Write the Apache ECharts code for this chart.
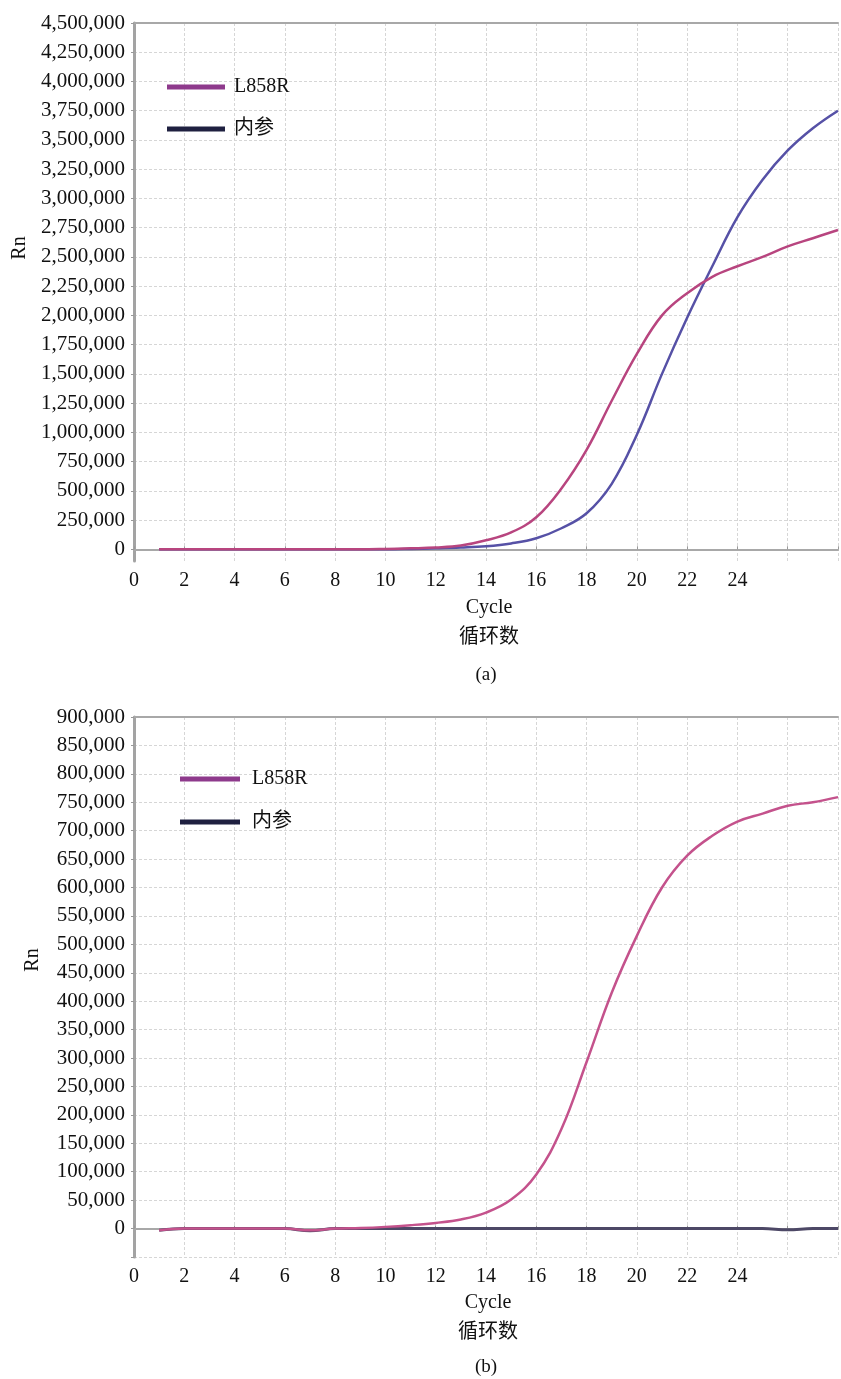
<!DOCTYPE html>
<html>
<head>
<meta charset="utf-8">
<script src="https://cdn.jsdelivr.net/npm/echarts@6/dist/echarts.min.js"></script>
<style>
html,body{margin:0;padding:0;background:#fff;}
#chart{width:841px;height:1379px;}
</style>
</head>
<body>
<div id="chart"></div>
<script>
// ---- data ----
var cycles = [1,2,3,4,5,6,7,8,9,10,11,12,13,14,15,16,17,18,19,20,21,22,23,24,25,26,27,28];
var aL858R = [0,0,0,0,0,0,0,0,0,3000,8000,15000,32000,77000,145000,274000,520000,850000,1270000,1670000,2000000,2190000,2330000,2420000,2500000,2590000,2660000,2730000];
var aRef   = [0,0,0,0,0,0,0,0,0,0,3000,8000,15000,26000,50000,94000,180000,308000,560000,980000,1500000,1980000,2420000,2840000,3160000,3410000,3600000,3750000];
var bL858R = [-3000,0,0,0,0,0,-3000,0,1000,3000,6000,10000,16000,28000,51000,95000,175000,293000,415000,515000,600000,656000,691000,716000,730000,744000,750000,759000];
var bRef   = [-3000,0,0,0,0,0,-4000,0,0,0,0,0,0,0,0,0,0,0,0,0,0,0,0,0,0,-2000,0,0];
var aYTicks = [0,250000,500000,750000,1000000,1250000,1500000,1750000,2000000,2250000,2500000,2750000,3000000,3250000,3500000,3750000,4000000,4250000,4500000];
var seriesNames = ['L858R','内参'];

var FONT = '"Liberation Serif","Times New Roman","Noto Sans CJK SC",serif';
function fmt(v){ return String(v).replace(/\B(?=(\d{3})+(?!\d))/g, ','); }
function pairs(ys){ return cycles.map(function(c,i){ return [c, ys[i]]; }); }

var gridLine = {show:true, lineStyle:{color:'#d6d6d6', width:1, type:[3,2]}};
var axisLineL = {show:true, lineStyle:{color:'#a3a3a3', width:3}};
var axisLineB = {show:true, lineStyle:{color:'#a8a8a8', width:2}};

function xAx(gi){
  return {
    type:'value', gridIndex:gi, min:0, max:28, interval:2,
    axisLine:axisLineB,
    axisTick:{show:true, length:3, inside:true, lineStyle:{color:'#999'}},
    axisLabel:{fontFamily:FONT, fontSize:20, color:'#111', margin:10,
      formatter:function(v){ return v>24 ? '' : String(v); }},
    splitLine:gridLine
  };
}
function xTop(gi){
  return {
    type:'value', gridIndex:gi, position:'top', min:0, max:28,
    axisLine:{show:true, lineStyle:{color:'#a8a8a8', width:2}},
    axisTick:{show:false}, axisLabel:{show:false}, splitLine:{show:false}
  };
}

var option = {
  backgroundColor:'#fff',
  animation:false,
  grid:[
    {left:134, top:23, width:706, height:538},
    {left:134, top:717, width:706, height:540}
  ],
  xAxis:[xAx(0), xTop(0), xAx(1), xTop(1)],
  yAxis:[
    {type:'value', gridIndex:0, min:-100000, max:4500000,
      axisLine:axisLineL,
      axisTick:{show:true, length:3, customValues:aYTicks, lineStyle:{color:'#999'}},
      axisLabel:{customValues:aYTicks, fontFamily:FONT, fontSize:21, color:'#111', margin:9, formatter:fmt},
      splitLine:gridLine},
    {type:'value', gridIndex:1, min:-50000, max:900000, interval:50000,
      axisLine:axisLineL,
      axisTick:{show:true, length:3, lineStyle:{color:'#999'}},
      axisLabel:{fontFamily:FONT, fontSize:21, color:'#111', margin:9,
        formatter:function(v){ return v<0 ? '' : fmt(v); }},
      splitLine:gridLine}
  ],
  legend:[
    {orient:'vertical', left:162, top:72, itemWidth:58, itemHeight:5, itemGap:22, icon:'rect',
      textStyle:{fontFamily:FONT, fontSize:20, color:'#111', padding:[0,0,0,4]},
      data:[{name:seriesNames[0], itemStyle:{color:'#8e3a8c'}},{name:seriesNames[1], itemStyle:{color:'#1f2040'}}]},
    {orient:'vertical', left:175, top:764, itemWidth:60, itemHeight:5, itemGap:23, icon:'rect',
      textStyle:{fontFamily:FONT, fontSize:20, color:'#111', padding:[0,0,0,7]},
      data:[{name:seriesNames[0], itemStyle:{color:'#8e3a8c'}},{name:seriesNames[1], itemStyle:{color:'#1f2040'}}]}
  ],
  graphic:[
    {type:'text', x:20, y:248, rotation:Math.PI/2, style:{text:'Rn', font:'20px '+FONT, fill:'#111', align:'center', verticalAlign:'middle'}},
    {type:'text', x:33, y:960, rotation:Math.PI/2, style:{text:'Rn', font:'20px '+FONT, fill:'#111', align:'center', verticalAlign:'middle'}},
    {type:'text', x:489, y:608, style:{text:'Cycle', font:'20px '+FONT, fill:'#111', align:'center', verticalAlign:'middle'}},
    {type:'text', x:489, y:638, style:{text:'循环数', font:'20px '+FONT, fill:'#111', align:'center', verticalAlign:'middle'}},
    {type:'text', x:486, y:675, style:{text:'(a)', font:'19px '+FONT, fill:'#111', align:'center', verticalAlign:'middle'}},
    {type:'text', x:488, y:1303, style:{text:'Cycle', font:'20px '+FONT, fill:'#111', align:'center', verticalAlign:'middle'}},
    {type:'text', x:488, y:1333, style:{text:'循环数', font:'20px '+FONT, fill:'#111', align:'center', verticalAlign:'middle'}},
    {type:'text', x:486, y:1367, style:{text:'(b)', font:'19px '+FONT, fill:'#111', align:'center', verticalAlign:'middle'}}
  ],
  series:[
    {name:seriesNames[0], type:'line', xAxisIndex:0, yAxisIndex:0, data:pairs(aL858R), smooth:0.4, showSymbol:false,
      itemStyle:{color:'#8e3a8c'}, lineStyle:{color:'#b8457f', width:2.5}, z:3},
    {name:seriesNames[1], type:'line', xAxisIndex:0, yAxisIndex:0, data:pairs(aRef), smooth:0.4, showSymbol:false,
      itemStyle:{color:'#1f2040'}, lineStyle:{color:'#5651a6', width:2.5}, z:2},
    {name:seriesNames[0], type:'line', xAxisIndex:2, yAxisIndex:1, data:pairs(bL858R), smooth:0.4, showSymbol:false,
      itemStyle:{color:'#8e3a8c'}, lineStyle:{color:'#c4528c', width:2.5}, z:3},
    {name:seriesNames[1], type:'line', xAxisIndex:2, yAxisIndex:1, data:pairs(bRef), smooth:0.4, showSymbol:false,
      itemStyle:{color:'#1f2040'}, lineStyle:{color:'#4d4866', width:3}, z:2}
  ]
};

var chart = echarts.init(document.getElementById('chart'), null, {renderer:'canvas'});
chart.setOption(option);
</script>
</body>
</html>
